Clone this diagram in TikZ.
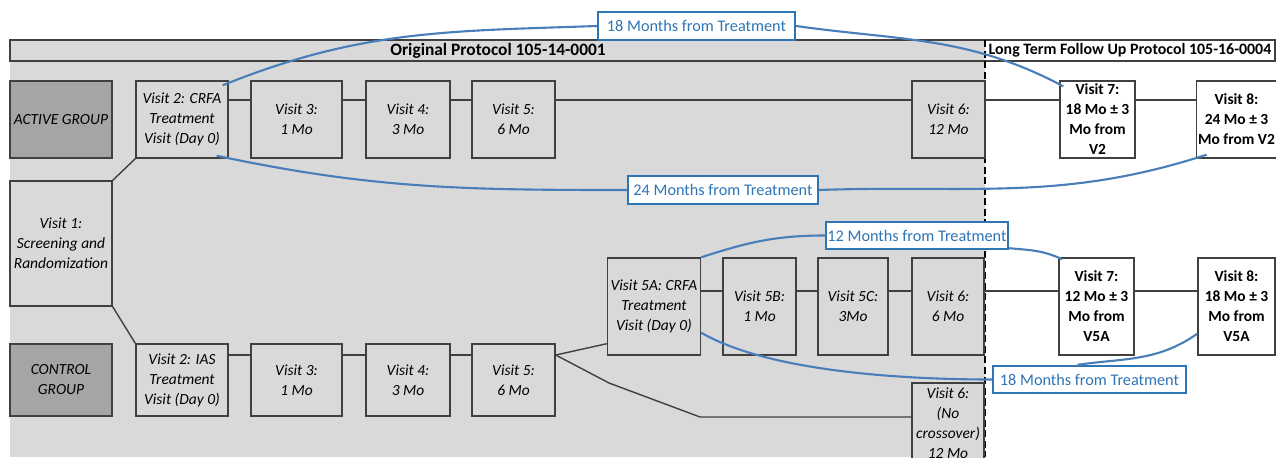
\documentclass[tikz,border=0pt]{standalone}
\usepackage{fontspec}
\setmainfont{Carlito}
\usetikzlibrary{calc}
\definecolor{cpanel}{HTML}{D9D9D9}
\definecolor{cgroup}{HTML}{A5A5A5}
\definecolor{cedge}{HTML}{404040}
\definecolor{cblue}{HTML}{2E75B6}
\definecolor{cline}{HTML}{4A7EBB}
\tikzset{
  every picture/.style={font=\fontsize{8.8}{11.4}\selectfont},
  visit/.style={draw=cedge, fill=cpanel, line width=0.8pt, align=center, inner sep=1pt,
    font=\fontsize{8.8}{11.4}\selectfont\itshape},
  group/.style={visit, fill=cgroup},
  ltfu/.style={visit, fill=white, font=\fontsize{8.8}{11.4}\selectfont\bfseries},
  callout/.style={draw=cblue, fill=white, line width=1.1pt, text=cblue, minimum height=0.55cm, inner sep=0pt,
    font=\fontsize{9.25}{11.4}\selectfont},
  link/.style={draw=cedge, line width=0.8pt},
  span/.style={draw=cline, line width=1.2pt},
}

\begin{document}
\begin{tikzpicture}[rowa/.style={minimum height=1.54cm},
  rowb/.style={minimum height=1.94cm},
  rowc/.style={minimum height=1.44cm}]
  \useasboundingbox (0,0) rectangle (25.52,9.14);
  \clip (0,0) rectangle (25.52,9.14);
  % panels and protocol headers
  \fill[cpanel] (0.2,0) rectangle (19.7,8.34);
  \draw[link] (0.2,7.92) rectangle (25.5,8.34);
  \node[font=\fontsize{9.9}{11.4}\selectfont\bfseries] (orig) at (9.96,8.13) {Original Protocol 105-14-0001};
  \node[font=\fontsize{9.05}{11.4}\selectfont\bfseries] (ltfu) at (22.6,8.13) {Long Term Follow Up Protocol 105-16-0004};
  \draw[line width=1.4pt, dash pattern=on 4pt off 2pt] (19.7,8.34) -- (19.7,0);
  \coordinate (ya) at (0,7.14);
  \coordinate (yb) at (0,3.32);
  \coordinate (yc) at (0,2.04);
  % active group
  \node[group, rowa, minimum width=2.04cm] (ag) at (1.22,6.75) {ACTIVE GROUP};
  \node[visit, rowa, minimum width=1.84cm] (v2a) at (3.64,6.75) {Visit 2: CRFA\\Treatment\\Visit (Day 0)};
  \node[visit, rowa, minimum width=1.82cm] (v3a) at (5.93,6.75) {Visit 3:\\1 Mo};
  \node[visit, rowa, minimum width=1.68cm] (v4a) at (8.16,6.75) {Visit 4:\\3 Mo};
  \node[visit, rowa, minimum width=1.66cm] (v5a) at (10.27,6.75) {Visit 5:\\6 Mo};
  \node[visit, rowa, minimum width=1.46cm] (v6a) at (18.97,6.75) {Visit 6:\\12 Mo};
  \node[ltfu, rowa, minimum width=1.5cm] (v7a) at (21.95,6.75) {Visit 7:\\18 Mo ± 3\\Mo from\\V2};
  \node[ltfu, rowa, minimum width=1.54cm] (v8a) at (24.73,6.75) {Visit 8:\\24 Mo ± 3\\Mo from V2};
  \node[visit, minimum width=2.04cm, minimum height=2.5cm] (v1) at (1.22,4.27) {Visit 1:\\Screening and\\Randomization};
  % crossover row
  \node[visit, rowb, minimum width=1.86cm] (v5x) at (13.08,3.01) {Visit 5A: CRFA\\Treatment\\Visit (Day 0)};
  \node[visit, rowb, minimum width=1.46cm] (v5y) at (15.19,3.01) {Visit 5B:\\1 Mo};
  \node[visit, rowb, minimum width=1.40cm] (v5z) at (17.06,3.01) {Visit 5C:\\3Mo};
  \node[visit, rowb, minimum width=1.44cm] (v6b) at (18.96,3.01) {Visit 6:\\6 Mo};
  \node[ltfu, rowb, minimum width=1.5cm] (v7b) at (21.93,3.01) {Visit 7:\\12 Mo ± 3\\Mo from\\V5A};
  \node[ltfu, rowb, minimum width=1.54cm] (v8b) at (24.73,3.01) {Visit 8:\\18 Mo ± 3\\Mo from\\V5A};
  % control group
  \node[group, rowc, minimum width=2.04cm] (cg) at (1.22,1.54) {CONTROL\\GROUP};
  \node[visit, rowc, minimum width=1.84cm] (v2c) at (3.64,1.54) {Visit 2: IAS\\Treatment\\Visit (Day 0)};
  \node[visit, rowc, minimum width=1.82cm] (v3c) at (5.93,1.54) {Visit 3:\\1 Mo};
  \node[visit, rowc, minimum width=1.68cm] (v4c) at (8.16,1.54) {Visit 4:\\3 Mo};
  \node[visit, rowc, minimum width=1.66cm] (v5c) at (10.27,1.54) {Visit 5:\\6 Mo};
  \node[visit, minimum width=1.44cm, minimum height=1.6cm] (v6n) at (18.96,0.68) {Visit 6:\\(No\\crossover)\\12 Mo};
  % connectors
  \foreach \a/\b in {v2a/v3a, v3a/v4a, v4a/v5a, v5a/v6a, v6a/v7a, v7a/v8a}
    \draw[link] (\a.east |- ya) -- (\b.west |- ya);
  \foreach \a/\b in {v5x/v5y, v5y/v5z, v5z/v6b, v6b/v7b, v7b/v8b}
    \draw[link] (\a.east |- yb) -- (\b.west |- yb);
  \foreach \a/\b in {v2c/v3c, v3c/v4c, v4c/v5c}
    \draw[link] (\a.east |- yc) -- (\b.west |- yc);
  \draw[link] (v1.north east) -- (v2a.south west);
  \draw[link] (v1.south east) -- (v2c.north west);
  \draw[link] (v5c.east |- yc) -- ($(v5x.south west)+(0,0.24)$);
  \coordinate (k1) at (12.18,1.48);
  \coordinate (k2) at (14.0,0.8);
  \draw[link] (v5c.east |- yc) -- (k1) -- (k2) -- (v6n.west |- k2);
  % time spans
  \node[callout, minimum width=3.94cm] (c18a) at (13.93,8.62) {18 Months from Treatment};
  \node[callout, minimum width=3.8cm] (c24) at (14.46,5.34) {24 Months from Treatment};
  \node[callout, minimum width=3.64cm] (c12) at (18.34,4.43) {12 Months from Treatment};
  \node[callout, minimum width=3.86cm] (c18b) at (21.79,1.55) {18 Months from Treatment};
  \draw[span] ($(v2a.north east)+(-0.12,-0.1)$) to[out=22, in=182] (c18a.west);
  \draw[span] (c18a.east) to[out=-8, in=152] ($(v7a.north west)+(0.08,-0.12)$);
  \draw[span] ($(v2a.south east)+(-0.24,0.06)$) to[out=-12, in=180] (c24.west);
  \draw[span] (c24.east) to[out=2, in=198] ($(v8a.south west)+(0.22,0.08)$);
  \draw[span] (v5x.north east) to[out=18, in=180] (c12.west);
  \draw[span] ($(c12.south east)+(0,0.04)$) to[out=-5, in=155] ($(v7b.north west)+(0.08,-0.04)$);
  \draw[span] ($(v5x.south east)+(0,0.46)$) to[out=-30, in=180, looseness=0.7] (c18b.west);
  \draw[span] ($(v8b.south west)+(0,0.44)$) to[out=215, in=8] ($(c18b.north)+(-0.24,0)$);
\end{tikzpicture}
\end{document}
